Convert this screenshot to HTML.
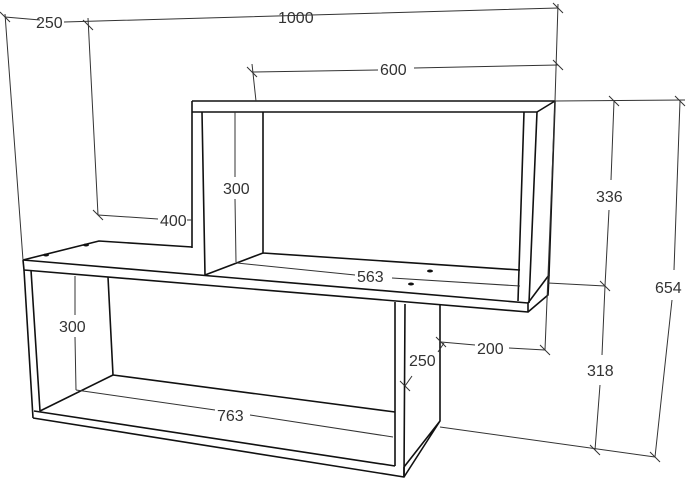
<!DOCTYPE html>
<html><head><meta charset="utf-8"><style>
html,body{margin:0;padding:0;background:#fff;}
svg{display:block}
text{font-family:"Liberation Sans",sans-serif;font-size:16px;fill:#333;}
</style></head><body>
<svg width="688" height="480" viewBox="0 0 688 480" xmlns="http://www.w3.org/2000/svg">
<g stroke="#111" stroke-width="1.6" fill="none" stroke-linejoin="round">
<!-- upper box -->
<path d="M192,101 L555,101 L549,275 L528,303"/>
<path d="M192,112 L537,112 L555,101"/>
<path d="M192,101 L192,248 M202,112 L205,275"/>
<path d="M263,112 L263,253 L520,270 M205,275 L263,253"/>
<path d="M524,112 L518,301 M537,112 L529,303"/>
<!-- middle shelf -->
<path d="M23,260 L99,241 L192,247"/>
<path d="M23,260 L528,303"/>
<path d="M23,260 L24,270 L528,312 L528,303"/>
<path d="M528,312 L548,295 L549,275"/>
<!-- lower box -->
<path d="M24,270 L33,418 M31,270 L40,411"/>
<path d="M108,277 L113,375 L395,412"/>
<path d="M40,411 L113,375"/>
<path d="M34,411 L395,466 M33,418 L404,477 L404,467"/>
<path d="M395,302 L395,466 M405,304 L404,477"/>
<path d="M440,305 L440,421 L404,477 M440,421 L404,467"/>
</g>
<g fill="#111"><ellipse cx="46" cy="255" rx="3" ry="1.5"/><ellipse cx="86" cy="245" rx="3" ry="1.5"/><ellipse cx="430" cy="271" rx="3" ry="1.5"/><ellipse cx="411" cy="284" rx="3" ry="1.5"/></g>
<g stroke="#333" stroke-width="1" fill="none">
<path d="M5,14 L23,260 M88,18 L98,215 M558,4 L555,101 M252,64 L256,101"/>
<path d="M5,17 L40,20 M64,22 L558,8"/>
<path d="M252,72 L378,70 M414,68 L558,65"/>
<path d="M98,215 L158,219 M187,220 L192,220"/>
<path d="M235,112 L235,177 M235,199 L236,262"/>
<path d="M237,263 L355,275 M392,278 L520,286"/>
<path d="M75,276 L75,315 M75,337 L76,390"/>
<path d="M76,390 L215,410 M250,415 L393,437"/>
<path d="M405,386 L412,376 M438,352 L444,343"/>
<path d="M441,342 L475,345 M509,348 L545,350 M555,101 L545,350"/>
<path d="M555,101 L685,100 M548,283 L605,286 M440,427 L655,457"/>
<path d="M614,101 L611,180 M609,210 L605,286 L602,355 M600,385 L595,450"/>
<path d="M680,101 L674,270 M672,300 L655,457"/>
</g>
<g stroke="#333" stroke-width="1">
<path d="M0,12 L10,22 M83,20 L93,30 M553,3 L563,13 M247,67 L257,77 M553,60 L563,70 M93,210 L103,220 M609,96 L619,106 M675,96 L685,106 M600,281 L610,291 M590,445 L600,455 M650,452 L660,462 M436,337 L446,347 M540,345 L550,355 M400,381 L410,391"/>
</g>
<text x="36" y="28">250</text>
<text x="278" y="23">1000</text>
<text x="380" y="75">600</text>
<text x="160" y="226">400</text>
<text x="223" y="194">300</text>
<text x="357" y="282">563</text>
<text x="59" y="332">300</text>
<text x="217" y="421">763</text>
<text x="409" y="366">250</text>
<text x="477" y="354">200</text>
<text x="596" y="202">336</text>
<text x="587" y="376">318</text>
<text x="655" y="293">654</text>
</svg>
</body></html>
